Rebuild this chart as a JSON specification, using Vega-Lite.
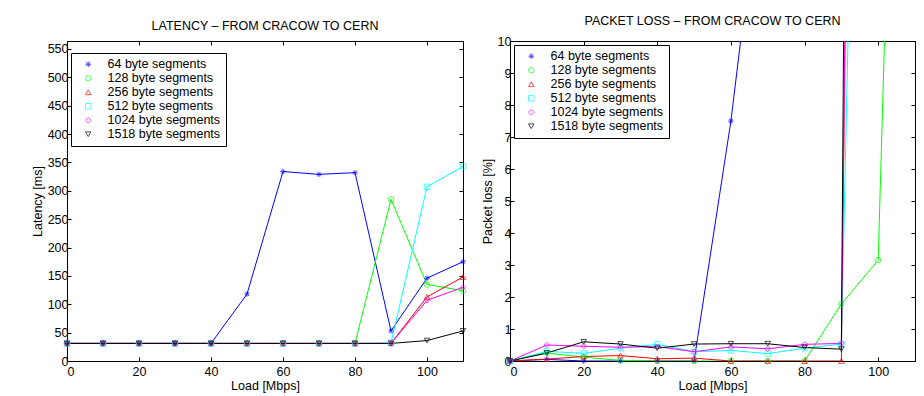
{
  "$schema": "https://vega.github.io/schema/vega-lite/v6.json",
  "background": "white",
  "padding": {"left": 30, "top": 14, "right": 0, "bottom": 0},
  "config": {
    "font": "Liberation Sans",
    "view": {"stroke": "black", "strokeWidth": 1},
    "title": {"fontSize": 12.5, "fontWeight": "normal", "color": "black", "font": "Liberation Sans", "offset": 8},
    "axis": {"grid": false, "domainColor": "black", "tickColor": "black", "labelColor": "black", "titleColor": "black", "labelFontSize": 12.5, "titleFontSize": 12.5, "titleFontWeight": "normal", "labelFont": "Liberation Sans", "titleFont": "Liberation Sans", "tickSize": -4, "labelPadding": 3, "domainWidth": 1, "tickWidth": 1},
    "legend": {"strokeColor": "black", "fillColor": "white", "padding": 5, "labelFontSize": 12.5, "labelFont": "Liberation Sans", "labelColor": "black", "rowPadding": 1, "symbolSize": 30, "symbolStrokeWidth": 1, "symbolOffset": 6, "labelOffset": 13}
  },
  "datasets": {
    "lat": [
      {"load":0,"series":"64 byte segments","v":31},{"load":10,"series":"64 byte segments","v":31},{"load":20,"series":"64 byte segments","v":31},{"load":30,"series":"64 byte segments","v":31},{"load":40,"series":"64 byte segments","v":31},{"load":50,"series":"64 byte segments","v":118},{"load":60,"series":"64 byte segments","v":334},{"load":70,"series":"64 byte segments","v":329},{"load":80,"series":"64 byte segments","v":332},{"load":90,"series":"64 byte segments","v":53},{"load":100,"series":"64 byte segments","v":146},{"load":110,"series":"64 byte segments","v":175},
      {"load":0,"series":"128 byte segments","v":31},{"load":10,"series":"128 byte segments","v":31},{"load":20,"series":"128 byte segments","v":31},{"load":30,"series":"128 byte segments","v":31},{"load":40,"series":"128 byte segments","v":31},{"load":50,"series":"128 byte segments","v":31},{"load":60,"series":"128 byte segments","v":31},{"load":70,"series":"128 byte segments","v":31},{"load":80,"series":"128 byte segments","v":31},{"load":90,"series":"128 byte segments","v":285},{"load":100,"series":"128 byte segments","v":135},{"load":110,"series":"128 byte segments","v":124},
      {"load":0,"series":"256 byte segments","v":31},{"load":10,"series":"256 byte segments","v":31},{"load":20,"series":"256 byte segments","v":31},{"load":30,"series":"256 byte segments","v":31},{"load":40,"series":"256 byte segments","v":31},{"load":50,"series":"256 byte segments","v":31},{"load":60,"series":"256 byte segments","v":31},{"load":70,"series":"256 byte segments","v":31},{"load":80,"series":"256 byte segments","v":31},{"load":90,"series":"256 byte segments","v":31},{"load":100,"series":"256 byte segments","v":113},{"load":110,"series":"256 byte segments","v":148},
      {"load":0,"series":"512 byte segments","v":31},{"load":10,"series":"512 byte segments","v":31},{"load":20,"series":"512 byte segments","v":31},{"load":30,"series":"512 byte segments","v":31},{"load":40,"series":"512 byte segments","v":31},{"load":50,"series":"512 byte segments","v":31},{"load":60,"series":"512 byte segments","v":31},{"load":70,"series":"512 byte segments","v":31},{"load":80,"series":"512 byte segments","v":31},{"load":90,"series":"512 byte segments","v":32},{"load":100,"series":"512 byte segments","v":307},{"load":110,"series":"512 byte segments","v":343},
      {"load":0,"series":"1024 byte segments","v":31},{"load":10,"series":"1024 byte segments","v":31},{"load":20,"series":"1024 byte segments","v":31},{"load":30,"series":"1024 byte segments","v":31},{"load":40,"series":"1024 byte segments","v":31},{"load":50,"series":"1024 byte segments","v":31},{"load":60,"series":"1024 byte segments","v":31},{"load":70,"series":"1024 byte segments","v":31},{"load":80,"series":"1024 byte segments","v":31},{"load":90,"series":"1024 byte segments","v":31},{"load":100,"series":"1024 byte segments","v":107},{"load":110,"series":"1024 byte segments","v":130},
      {"load":0,"series":"1518 byte segments","v":31},{"load":10,"series":"1518 byte segments","v":31},{"load":20,"series":"1518 byte segments","v":31},{"load":30,"series":"1518 byte segments","v":31},{"load":40,"series":"1518 byte segments","v":31},{"load":50,"series":"1518 byte segments","v":31},{"load":60,"series":"1518 byte segments","v":31},{"load":70,"series":"1518 byte segments","v":31},{"load":80,"series":"1518 byte segments","v":31},{"load":90,"series":"1518 byte segments","v":31},{"load":100,"series":"1518 byte segments","v":36},{"load":110,"series":"1518 byte segments","v":53}
    ],
    "loss": [
      {"load":0,"series":"64 byte segments","v":0},{"load":10,"series":"64 byte segments","v":0.05},{"load":20,"series":"64 byte segments","v":0},{"load":30,"series":"64 byte segments","v":0},{"load":40,"series":"64 byte segments","v":0},{"load":50,"series":"64 byte segments","v":0},{"load":60,"series":"64 byte segments","v":7.5},{"load":70,"series":"64 byte segments","v":17},{"load":80,"series":"64 byte segments","v":30},{"load":90,"series":"64 byte segments","v":40},{"load":100,"series":"64 byte segments","v":50},{"load":110,"series":"64 byte segments","v":60},
      {"load":0,"series":"128 byte segments","v":0},{"load":10,"series":"128 byte segments","v":0.25},{"load":20,"series":"128 byte segments","v":0.12},{"load":30,"series":"128 byte segments","v":0.02},{"load":40,"series":"128 byte segments","v":0},{"load":50,"series":"128 byte segments","v":0},{"load":60,"series":"128 byte segments","v":0},{"load":70,"series":"128 byte segments","v":0},{"load":80,"series":"128 byte segments","v":0},{"load":90,"series":"128 byte segments","v":1.78},{"load":100,"series":"128 byte segments","v":3.15},{"load":110,"series":"128 byte segments","v":43},
      {"load":0,"series":"256 byte segments","v":0},{"load":10,"series":"256 byte segments","v":0.06},{"load":20,"series":"256 byte segments","v":0.14},{"load":30,"series":"256 byte segments","v":0.17},{"load":40,"series":"256 byte segments","v":0.07},{"load":50,"series":"256 byte segments","v":0.09},{"load":60,"series":"256 byte segments","v":0},{"load":70,"series":"256 byte segments","v":0},{"load":80,"series":"256 byte segments","v":0},{"load":90,"series":"256 byte segments","v":0},{"load":100,"series":"256 byte segments","v":100},{"load":110,"series":"256 byte segments","v":110},
      {"load":0,"series":"512 byte segments","v":0},{"load":10,"series":"512 byte segments","v":0.3},{"load":20,"series":"512 byte segments","v":0.24},{"load":30,"series":"512 byte segments","v":0.4},{"load":40,"series":"512 byte segments","v":0.52},{"load":50,"series":"512 byte segments","v":0.29},{"load":60,"series":"512 byte segments","v":0.33},{"load":70,"series":"512 byte segments","v":0.23},{"load":80,"series":"512 byte segments","v":0.4},{"load":90,"series":"512 byte segments","v":0.53},{"load":100,"series":"512 byte segments","v":53},{"load":110,"series":"512 byte segments","v":80},
      {"load":0,"series":"1024 byte segments","v":0},{"load":10,"series":"1024 byte segments","v":0.5},{"load":20,"series":"1024 byte segments","v":0.46},{"load":30,"series":"1024 byte segments","v":0.43},{"load":40,"series":"1024 byte segments","v":0.45},{"load":50,"series":"1024 byte segments","v":0.29},{"load":60,"series":"1024 byte segments","v":0.44},{"load":70,"series":"1024 byte segments","v":0.38},{"load":80,"series":"1024 byte segments","v":0.52},{"load":90,"series":"1024 byte segments","v":0.55},{"load":100,"series":"1024 byte segments","v":100},{"load":110,"series":"1024 byte segments","v":110},
      {"load":0,"series":"1518 byte segments","v":0},{"load":10,"series":"1518 byte segments","v":0.25},{"load":20,"series":"1518 byte segments","v":0.6},{"load":30,"series":"1518 byte segments","v":0.53},{"load":40,"series":"1518 byte segments","v":0.4},{"load":50,"series":"1518 byte segments","v":0.53},{"load":60,"series":"1518 byte segments","v":0.54},{"load":70,"series":"1518 byte segments","v":0.54},{"load":80,"series":"1518 byte segments","v":0.42},{"load":90,"series":"1518 byte segments","v":0.37},{"load":100,"series":"1518 byte segments","v":160},{"load":110,"series":"1518 byte segments","v":170}
    ]
  },
  "spacing": 11,
  "resolve": {"scale": {"color": "independent", "shape": "independent"}},
  "hconcat": [
    {
      "width": 396, "height": 320,
      "title": {"text": "LATENCY – FROM CRACOW TO CERN"},
      "data": {"name": "lat"},
      "resolve": {"axis": {"x": "independent", "y": "independent"}},
      "layer": [
        {"mark": {"type": "line", "strokeWidth": 1, "clip": true},
         "encoding": {
           "x": {"field": "load", "type": "quantitative", "scale": {"domain": [0, 110], "nice": false, "zero": false}, "axis": {"values": [0,20,40,60,80,100], "title": "Load [Mbps]", "labelPadding": 8, "titlePadding": 2}},
           "y": {"field": "v", "type": "quantitative", "scale": {"domain": [0, 564.1], "nice": false}, "axis": {"values": [0,50,100,150,200,250,300,350,400,450,500,550], "title": "Latency [ms]", "titlePadding": 3}},
           "color": {"field": "series", "type": "nominal", "scale": {"domain": ["64 byte segments","128 byte segments","256 byte segments","512 byte segments","1024 byte segments","1518 byte segments"], "range": ["#0000ff","#00ff00","#ff0000","#00ffff","#ff00ff","#000000"]}, "legend": {"title": null, "orient": "none", "legendX": 4, "legendY": 12}}
         }},
        {"transform": [{"filter": "datum.v <= 550"}],
         "mark": {"type": "point", "filled": false, "size": 30, "strokeWidth": 1, "clip": false},
         "encoding": {
           "x": {"field": "load", "type": "quantitative", "axis": null},
           "y": {"field": "v", "type": "quantitative", "axis": null},
           "color": {"field": "series", "type": "nominal", "legend": {"title": null, "orient": "none", "legendX": 4, "legendY": 12}},
           "shape": {"field": "series", "type": "nominal", "scale": {"domain": ["64 byte segments","128 byte segments","256 byte segments","512 byte segments","1024 byte segments","1518 byte segments"], "range": ["M-1,0L1,0M0,-1L0,1M-0.7,-0.7L0.7,0.7M-0.7,0.7L0.7,-0.7","circle","triangle-up","square","diamond","triangle-down"]}, "legend": {"title": null, "orient": "none", "legendX": 4, "legendY": 12}}
         }},
        {"transform": [{"filter": "false"}],
         "mark": {"type": "point"},
         "encoding": {
           "x": {"field": "load", "type": "quantitative", "axis": {"orient": "top", "labels": false, "title": null, "values": [0,20,40,60,80,100]}},
           "y": {"field": "v", "type": "quantitative", "axis": {"orient": "right", "labels": false, "title": null, "values": [0,50,100,150,200,250,300,350,400,450,500,550]}}
         }}
      ]
    },
    {
      "width": 405, "height": 320,
      "title": {"text": "PACKET LOSS – FROM CRACOW TO CERN"},
      "data": {"name": "loss"},
      "resolve": {"axis": {"x": "independent", "y": "independent"}},
      "layer": [
        {"mark": {"type": "line", "strokeWidth": 1, "clip": true},
         "encoding": {
           "x": {"field": "load", "type": "quantitative", "scale": {"domain": [0, 110], "nice": false, "zero": false}, "axis": {"values": [0,20,40,60,80,100], "title": "Load [Mbps]", "labelPadding": 8, "titlePadding": 2}},
           "y": {"field": "v", "type": "quantitative", "scale": {"domain": [0, 10], "nice": false}, "axis": {"values": [0,1,2,3,4,5,6,7,8,9,10], "title": "Packet loss [%]", "titlePadding": 3}},
           "color": {"field": "series", "type": "nominal", "scale": {"domain": ["64 byte segments","128 byte segments","256 byte segments","512 byte segments","1024 byte segments","1518 byte segments"], "range": ["#0000ff","#00ff00","#ff0000","#00ffff","#ff00ff","#000000"]}, "legend": {"title": null, "orient": "none", "legendX": 4, "legendY": 4}}
         }},
        {"transform": [{"filter": "datum.v <= 10"}],
         "mark": {"type": "point", "filled": false, "size": 30, "strokeWidth": 1, "clip": false},
         "encoding": {
           "x": {"field": "load", "type": "quantitative", "axis": null},
           "y": {"field": "v", "type": "quantitative", "axis": null},
           "color": {"field": "series", "type": "nominal", "legend": {"title": null, "orient": "none", "legendX": 4, "legendY": 4}},
           "shape": {"field": "series", "type": "nominal", "scale": {"domain": ["64 byte segments","128 byte segments","256 byte segments","512 byte segments","1024 byte segments","1518 byte segments"], "range": ["M-1,0L1,0M0,-1L0,1M-0.7,-0.7L0.7,0.7M-0.7,0.7L0.7,-0.7","circle","triangle-up","square","diamond","triangle-down"]}, "legend": {"title": null, "orient": "none", "legendX": 4, "legendY": 4}}
         }},
        {"transform": [{"filter": "false"}],
         "mark": {"type": "point"},
         "encoding": {
           "x": {"field": "load", "type": "quantitative", "axis": {"orient": "top", "labels": false, "title": null, "values": [0,20,40,60,80,100]}},
           "y": {"field": "v", "type": "quantitative", "axis": {"orient": "right", "labels": false, "title": null, "values": [0,1,2,3,4,5,6,7,8,9,10]}}
         }}
      ]
    }
  ]
}
